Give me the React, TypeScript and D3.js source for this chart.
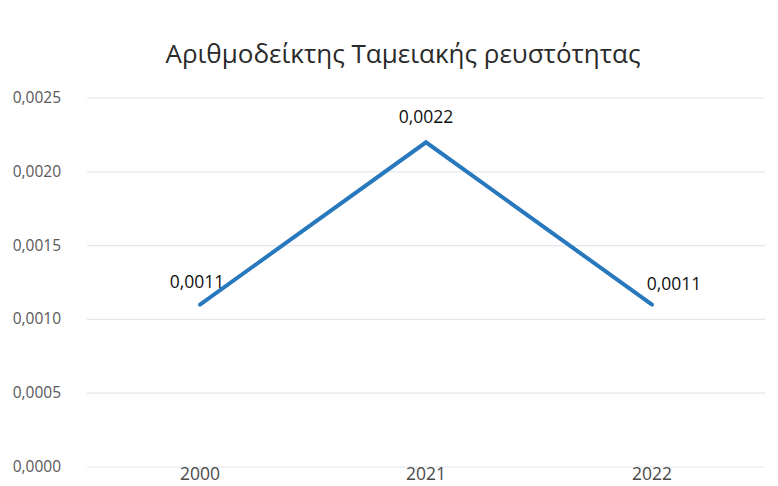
import React from "react";
import * as d3 from "d3";

const title = "Αριθμοδείκτης Ταμειακής ρευστότητας";
const categories = ["2000", "2021", "2022"];
const values = [0.0011, 0.0022, 0.0011];
const yTicks = [0, 0.0005, 0.001, 0.0015, 0.002, 0.0025];

const W = 778;
const H = 486;
const M = { left: 87, right: 13, top: 98, bottom: 19 };
const FONT = "'Open Sans', 'DejaVu Sans', sans-serif";

const fmt = (v: number) => v.toFixed(4).replace(".", ",");

export default function App() {
  const x = d3
    .scaleBand<string>()
    .domain(categories)
    .range([M.left, W - M.right])
    .paddingInner(0)
    .paddingOuter(0);
  const y = d3.scaleLinear().domain([0, 0.0025]).range([H - M.bottom, M.top]);
  const cx = (c: string) => (x(c) ?? 0) + x.bandwidth() / 2;
  const pts: [number, number][] = categories.map((c, i) => [cx(c), y(values[i])]);
  const line = d3.line()(pts) ?? "";
  const labelOffsets = [
    { dx: -3, dy: -17, anchor: "middle" },
    { dx: 0, dy: -19, anchor: "middle" },
    { dx: 22, dy: -15, anchor: "middle" },
  ];

  return (
    <svg
      width={W}
      height={H}
      style={{ position: "absolute", left: 0, top: 0, background: "#fff" }}
      fontFamily={FONT}
    >
      <rect x={0} y={0} width={W} height={H} fill="#fff" />
      <text x={403} y={63} textAnchor="middle" fontSize={26} fill="#2a2a2a">
        {title}
      </text>
      {yTicks.map((t) => (
        <g key={t}>
          <line
            x1={M.left}
            x2={W - M.right}
            y1={y(t)}
            y2={y(t)}
            stroke="#e3e6ec"
            strokeWidth={1.2}
          />
          <text
            x={61}
            y={y(t) + 5}
            textAnchor="end"
            fontSize={15.5}
            fill="#595959"
          >
            {fmt(t)}
          </text>
        </g>
      ))}
      {categories.map((c) => (
        <text
          key={c}
          x={cx(c)}
          y={480}
          textAnchor="middle"
          fontSize={17.5}
          fill="#4a4a4a"
        >
          {c}
        </text>
      ))}
      <path
        d={line}
        fill="none"
        stroke="#2878bd"
        strokeWidth={4}
        strokeLinejoin="miter"
        strokeLinecap="round"
      />
      {pts.map((p, i) => (
        <text
          key={i}
          x={p[0] + labelOffsets[i].dx}
          y={p[1] + labelOffsets[i].dy}
          textAnchor={labelOffsets[i].anchor as any}
          fontSize={17.5}
          fill="#111"
        >
          {fmt(values[i])}
        </text>
      ))}
    </svg>
  );
}
